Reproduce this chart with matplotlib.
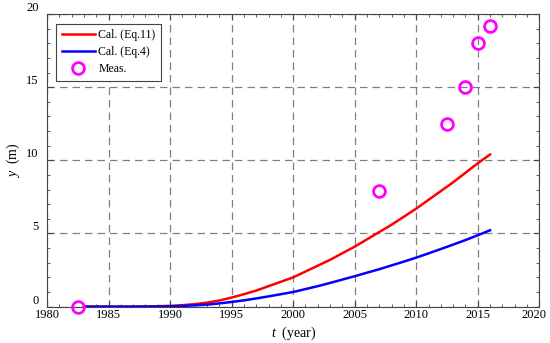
import numpy as np
import matplotlib
matplotlib.use("Agg")
import matplotlib.pyplot as plt
import matplotlib.transforms as mtransforms
from matplotlib.ticker import MultipleLocator

plt.rcParams["font.family"] = "Liberation Serif"
plt.rcParams["mathtext.fontset"] = "custom"
plt.rcParams["mathtext.it"] = "Liberation Serif:italic"
plt.rcParams["mathtext.rm"] = "Liberation Serif"

# calculated curves (one value per year)
years_calc = list(range(1983, 2017))
y_eq11 = [0.0, 0.0, 0.0, 0.0, 0.0, 0.01, 0.03,
          0.05, 0.1, 0.17, 0.27, 0.42, 0.62, 0.85, 1.1, 1.4, 1.7,
          2.0, 2.4, 2.8, 3.2, 3.65, 4.1, 4.6, 5.1, 5.6, 6.15,
          6.7, 7.3, 7.9, 8.5, 9.15, 9.8, 10.4]
y_eq4 = [0.0, 0.0, 0.0, 0.0, 0.0, 0.0, 0.01,
         0.02, 0.05, 0.09, 0.14, 0.22, 0.32, 0.43, 0.56, 0.7, 0.85,
         1.0, 1.2, 1.4, 1.62, 1.85, 2.08, 2.32, 2.56, 2.82, 3.08,
         3.35, 3.64, 3.94, 4.24, 4.55, 4.88, 5.22]

# measurements
years_meas = [1982.5, 2007.0, 2012.5, 2014.0, 2015.0, 2016.0]
y_meas = [0.0, 7.9, 12.5, 15.0, 18.0, 19.2]

fig = plt.figure(figsize=(5.5, 3.43), dpi=100)
ax = fig.add_axes([0.0855, 0.106, 0.895, 0.853])

ax.plot(years_calc, y_eq11, color="red", lw=1.8, label="Cal. (Eq.11)", zorder=3)
ax.plot(years_calc, y_eq4, color="blue", lw=1.8, label="Cal. (Eq.4)", zorder=3)
ax.plot(years_meas, y_meas, "o", ms=8.5, mfc="none", mec="magenta", mew=2,
        label="Meas.", zorder=4, clip_on=False)

ax.set_xlim(1980, 2020)
ax.set_ylim(0, 20)
ax.xaxis.set_major_locator(MultipleLocator(5))
ax.xaxis.set_minor_locator(MultipleLocator(1))
ax.yaxis.set_major_locator(MultipleLocator(5))
ax.yaxis.set_minor_locator(MultipleLocator(1))
ax.tick_params(which="both", direction="in", top=True, right=True,
               labelsize=9, color="#444444")
ax.tick_params(which="major", length=4)
ax.tick_params(which="minor", length=2.5)
ax.tick_params(axis="x", pad=2)
ax.tick_params(axis="y", pad=6)

ax.grid(True, which="major", color="#808080", linestyle=(0, (6, 4)), lw=0.9)
for sp in ax.spines.values():
    sp.set_color("#444444")
    sp.set_linewidth(0.8)

ax.set_xlabel(r"$t$  (year)", fontsize=10, labelpad=2)
ax.set_ylabel(r"$y$  (m)", fontsize=10, labelpad=3)

leg = ax.legend(loc="upper left", fontsize=8.5, frameon=True, fancybox=False,
                edgecolor="#444444", framealpha=1, borderaxespad=0.8,
                handlelength=2.8, handletextpad=0.3, labelspacing=0.45,
                borderpad=0.45)
leg.get_frame().set_linewidth(0.8)

fig.canvas.draw()
plt.setp(ax.get_yticklabels(), va="bottom")
# keep the last x label inside the figure, as in the reference
last = ax.xaxis.get_major_ticks()[-1].label1
for tick in ax.xaxis.get_major_ticks():
    if tick.label1.get_text() == "2020":
        last = tick.label1
last.set_transform(last.get_transform() +
                   mtransforms.ScaledTranslation(-5 / 100, 0, fig.dpi_scale_trans))

fig.savefig("out.png", dpi=100)
